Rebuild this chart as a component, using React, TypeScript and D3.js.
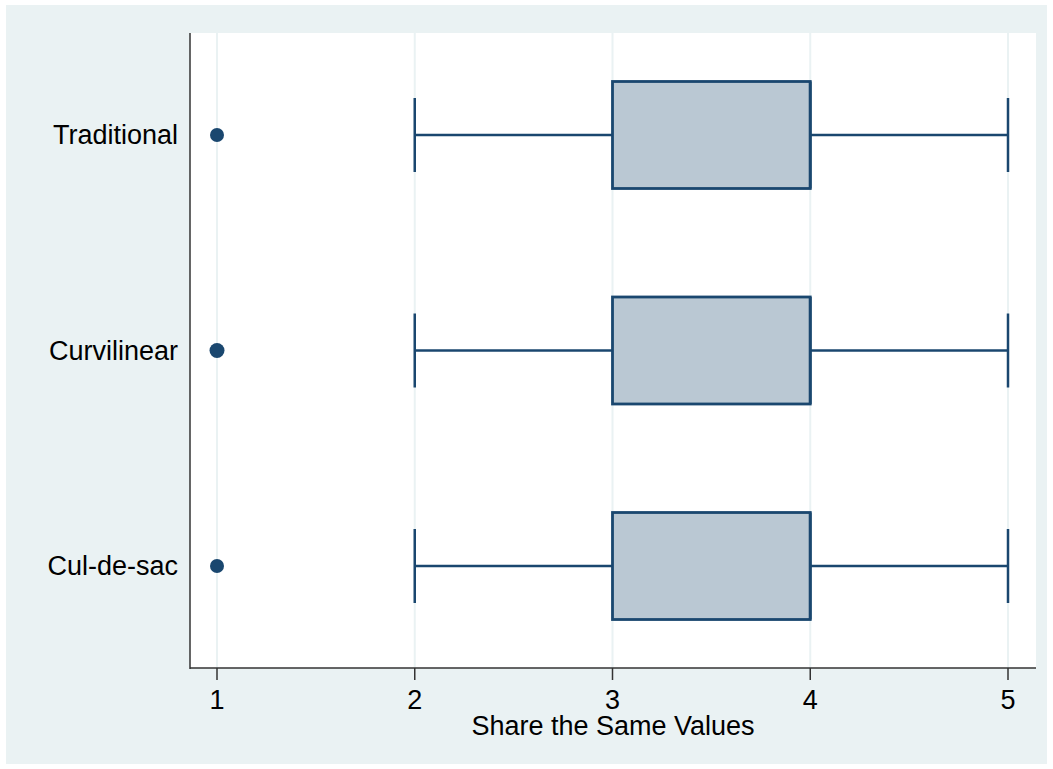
import React from "react";
import * as d3 from "d3";

const categories = ["Traditional", "Curvilinear", "Cul-de-sac"];
const lowerWhisker = [2, 2, 2];
const q1 = [3, 3, 3];
const median = [4, 4, 4];
const q3 = [4, 4, 4];
const upperWhisker = [5, 5, 5];
const outliers = [[1], [1], [1]];
const xTicks = [1, 2, 3, 4, 5];

const W = 1053;
const H = 769;
const plot = { left: 190, right: 1036, top: 33, bottom: 668 };
const navy = "#1a476f";
const font = "'Liberation Sans', Arial, Helvetica, sans-serif";

export default function App() {
  const x = d3.scaleLinear().domain([1, 5]).range([217, 1008]);
  const y = d3
    .scalePoint<string>()
    .domain(categories)
    .range([plot.top, plot.bottom])
    .padding(0.4733);
  const boxH = 107;
  const capH = 74;
  const fs = 27;

  return (
    <svg
      width={W}
      height={H}
      style={{ position: "absolute", left: 0, top: 0 }}
      fontFamily={font}
    >
      <rect x={0} y={0} width={W} height={H} fill="#ffffff" />
      <rect x={6} y={5} width={1041} height={759} fill="#eaf2f3" />
      <rect
        x={plot.left}
        y={plot.top}
        width={plot.right - plot.left}
        height={plot.bottom - plot.top}
        fill="#ffffff"
      />
      {xTicks.map((t) => (
        <line
          key={"g" + t}
          x1={x(t)}
          x2={x(t)}
          y1={plot.top}
          y2={plot.bottom}
          stroke="#eaf2f3"
          strokeWidth={2}
        />
      ))}
      {categories.map((c, i) => {
        const cy = y(c) as number;
        return (
          <g key={c}>
            <line x1={x(lowerWhisker[i])} x2={x(q1[i])} y1={cy} y2={cy} stroke={navy} strokeWidth={2.5} />
            <line x1={x(q3[i])} x2={x(upperWhisker[i])} y1={cy} y2={cy} stroke={navy} strokeWidth={2.5} />
            <line x1={x(lowerWhisker[i])} x2={x(lowerWhisker[i])} y1={cy - capH / 2} y2={cy + capH / 2} stroke={navy} strokeWidth={2.5} />
            <line x1={x(upperWhisker[i])} x2={x(upperWhisker[i])} y1={cy - capH / 2} y2={cy + capH / 2} stroke={navy} strokeWidth={2.5} />
            <rect
              x={x(q1[i])}
              y={cy - boxH / 2}
              width={x(q3[i]) - x(q1[i])}
              height={boxH}
              fill="#bac8d3"
              stroke={navy}
              strokeWidth={2.8}
            />
            <line x1={x(median[i])} x2={x(median[i])} y1={cy - boxH / 2} y2={cy + boxH / 2} stroke={navy} strokeWidth={2.8} />
            {outliers[i].map((o, j) => (
              <circle key={j} cx={x(o)} cy={cy} r={i === 1 ? 7.5 : 7} fill={navy} />
            ))}
            <text
              x={plot.left - 12}
              y={cy}
              textAnchor="end"
              dominantBaseline="central"
              fontSize={fs}
              fill="#000"
            >
              {c}
            </text>
          </g>
        );
      })}
      <line x1={plot.left} x2={plot.left} y1={plot.top} y2={plot.bottom + 1} stroke="#333" strokeWidth={1.5} />
      <line x1={plot.left} x2={plot.right} y1={plot.bottom} y2={plot.bottom} stroke="#333" strokeWidth={1.5} />
      {xTicks.map((t) => (
        <g key={"t" + t}>
          <line x1={x(t)} x2={x(t)} y1={plot.bottom} y2={plot.bottom + 12} stroke="#333" strokeWidth={1.5} />
          <text x={x(t)} y={709} textAnchor="middle" fontSize={fs} fill="#000">
            {t}
          </text>
        </g>
      ))}
      <text x={(plot.left + plot.right) / 2} y={735} textAnchor="middle" fontSize={fs} fill="#000">
        Share the Same Values
      </text>
    </svg>
  );
}
